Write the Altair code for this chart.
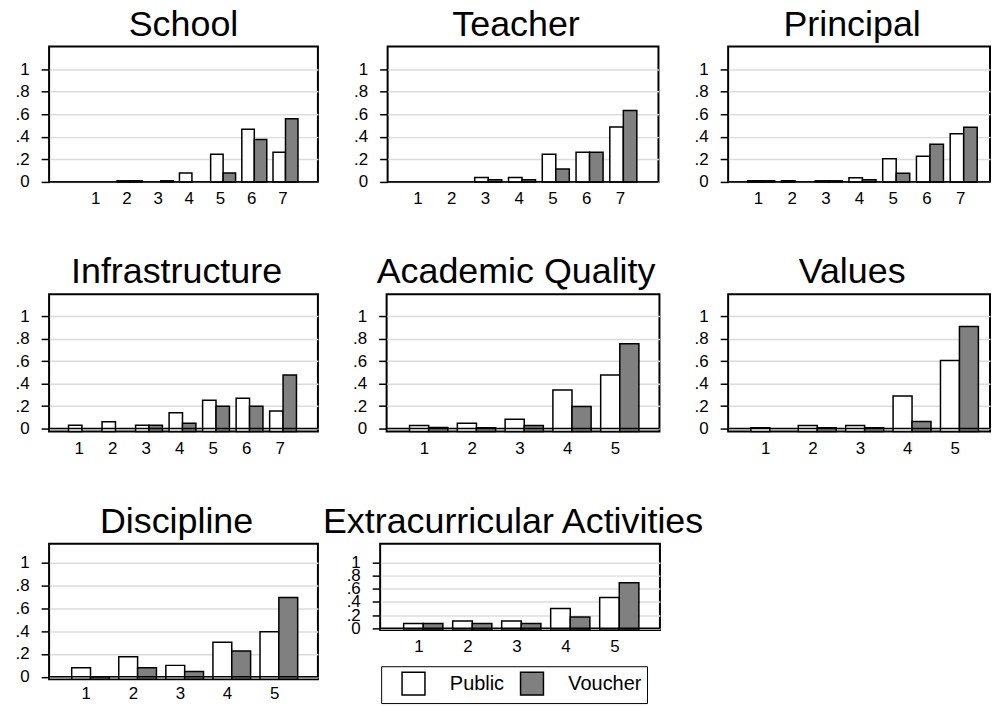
import altair as alt
import pandas as pd

# Response categories and the two school sectors
cats7 = [1, 2, 3, 4, 5, 6, 7]
cats5 = [1, 2, 3, 4, 5]
groups = ["Public", "Voucher"]
group_colors = ["#ffffff", "#808080"]

# Share of parents choosing each rating, by sector (None = no bar)
school_public = [None, 0.01, None, 0.08, 0.245, 0.466, 0.262]
school_voucher = [None, 0.01, 0.01, None, 0.079, 0.376, 0.56]
teacher_public = [None, None, 0.04, 0.04, 0.245, 0.262, 0.487]
teacher_voucher = [None, None, 0.02, 0.02, 0.114, 0.262, 0.633]
principal_public = [0.01, 0.01, 0.01, 0.038, 0.205, 0.228, 0.427]
principal_voucher = [0.01, None, 0.01, 0.02, 0.076, 0.333, 0.485]
infra_public = [0.03, 0.06, 0.03, 0.14, 0.252, 0.27, 0.157]
infra_voucher = [None, None, 0.03, 0.047, 0.2, 0.2, 0.478]
academic_public = [0.027, 0.047, 0.083, 0.344, 0.478]
academic_voucher = [0.01, 0.006, 0.027, 0.196, 0.757]
values_public = [0.006, 0.027, 0.027, 0.29, 0.608]
values_voucher = [None, 0.006, 0.006, 0.062, 0.911]
discipline_public = [0.079, 0.175, 0.1, 0.303, 0.394]
discipline_voucher = [0.0, 0.079, 0.047, 0.227, 0.694]
extra_public = [0.07, 0.108, 0.108, 0.30, 0.467]
extra_voucher = [0.07, 0.07, 0.07, 0.17, 0.69]

y_ticks = [0, 0.2, 0.4, 0.6, 0.8, 1]
FONT = "Liberation Sans"


def y_axis():
    return alt.Axis(
        values=y_ticks,
        labelExpr="datum.value == 0 ? '0' : datum.value == 1 ? '1' : '.' + round(datum.value * 10)",
        tickSize=8, tickWidth=1.5, tickColor="black",
        domain=False, grid=True, gridColor="#dcdcdc", gridWidth=1.5,
        labelFontSize=17, labelPadding=12, labelColor="black",
        labelOverlap=False, minExtent=35, maxExtent=35,
        titlePadding=0, title="",
    )


def panel(name, cats, pub, vou, width, height, y_dom, x_dom,
          legend=None, x_extent=24, x_pad=9, title_dx=-7):
    df = pd.DataFrame({
        "cat": cats + cats,
        "group": ["Public"] * len(cats) + ["Voucher"] * len(cats),
        "share": pub + vou,
    }).dropna()

    y_scale = alt.Scale(domain=y_dom, nice=False, zero=False)

    bars = (
        alt.Chart(df)
        .transform_calculate(
            x0="datum.cat + (datum.group == 'Public' ? -0.3 : 0.1)",
            x1="datum.cat + (datum.group == 'Public' ? 0.1 : 0.5)",
        )
        .mark_bar(stroke="black", strokeWidth=1.5)
        .encode(
            x=alt.X(
                "x0:Q",
                scale=alt.Scale(domain=x_dom, nice=False, zero=False),
                axis=alt.Axis(
                    values=cats, format="d", ticks=False, tickSize=0,
                    domain=False, grid=False, labelFontSize=17,
                    labelPadding=x_pad, labelColor="black", labelFlush=False,
                    labelOverlap=False, minExtent=x_extent,
                    maxExtent=x_extent, titlePadding=0, title="",
                ),
            ),
            x2="x1:Q",
            y=alt.Y("share:Q", scale=y_scale, axis=y_axis()),
            y2=alt.datum(y_dom[0]),
            fill=alt.Fill(
                "group:N",
                scale=alt.Scale(domain=groups, range=group_colors),
                legend=legend,
            ),
        )
    )

    zero = (
        alt.Chart(pd.DataFrame({"zero": [0]}))
        .mark_rule(color="black", strokeWidth=1.5)
        .encode(y=alt.Y("zero:Q", scale=y_scale, axis=y_axis()))
    )

    return alt.layer(bars, zero).properties(
        width=width,
        height=height,
        title=alt.TitleParams(
            text=name, fontSize=36, font=FONT, fontWeight="normal",
            color="black", anchor="middle", frame="group", dx=title_dx,
            baseline="top", offset=3,
        ),
    )


X7 = [0.12, 8.14]
X5 = [0.22, 5.93]

legend = alt.Legend(
    title=None, orient="none", legendX=1, legendY=123,
    direction="horizontal", symbolType="square", symbolSize=529,
    symbolStrokeColor="black", symbolStrokeWidth=1.5,
    labelFontSize=20, labelFont=FONT, labelColor="black",
    labelOffset=24, columnPadding=0, strokeColor="black",
    padding=5, symbolOffset=15,
)

school = panel("School", cats7, school_public, school_voucher, 270, 136,
               [0, 1.2], [-0.48, 8.14], title_dx=0)
teacher = panel("Teacher", cats7, teacher_public, teacher_voucher, 272, 136,
                [0, 1.2], X7)
principal = panel("Principal", cats7, principal_public, principal_voucher, 263, 136,
                  [0, 1.2], [0.12, 7.88])

infra = panel("Infrastructure", cats7, infra_public, infra_voucher, 270, 138,
              [-0.027, 1.2], X7)
academic = panel("Academic Quality", cats5, academic_public, academic_voucher, 274, 138,
                 [-0.027, 1.2], X5)
values = panel("Values", cats5, values_public, values_voucher, 263, 138,
               [-0.027, 1.2], [0.22, 5.745])

discipline = panel("Discipline", cats5, discipline_public, discipline_voucher, 270, 136,
                   [-0.021, 1.166], X5, x_extent=21, x_pad=6)
extra = panel("Extracurricular Activities", cats5, extra_public, extra_voucher, 281, 86.5,
              [-0.026, 1.285], X5, legend=legend, x_extent=21)


def row(*charts, spacing):
    return (
        alt.hconcat(*charts, spacing=spacing)
        .resolve_scale(fill="independent")
        .resolve_legend(fill="independent")
    )


row1 = row(school, teacher, principal, spacing=32)
row2 = row(infra, academic, values, spacing=31)
row3 = row(discipline, extra, spacing=0.5)

chart = (
    alt.vconcat(row1, row2, row3, spacing=45.7)
    .resolve_scale(fill="independent")
    .resolve_legend(fill="independent")
    .properties(padding={"left": 13.3, "top": 4.2, "right": 0, "bottom": 0})
    .configure(font=FONT)
    .configure_view(stroke="black", strokeWidth=2)
)

chart.save("out.html", embed_options={"renderer": "svg", "actions": False})
